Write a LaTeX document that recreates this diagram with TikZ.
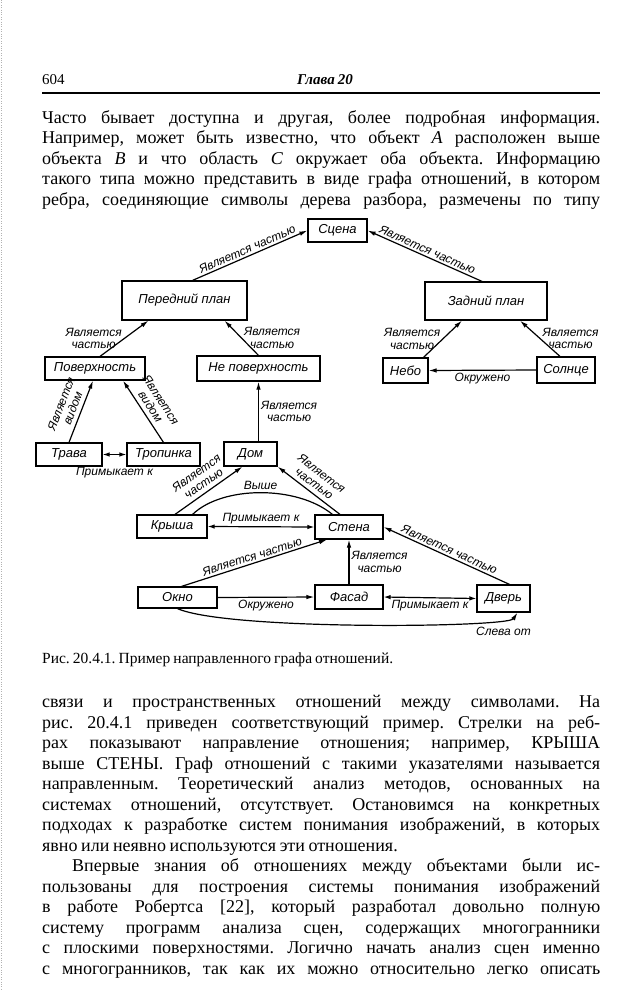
\documentclass[tikz,border=0pt]{standalone}
\usepackage{fontspec}
\setmainfont{Liberation Serif}[WordSpace={0.8,1,1.6}]
\newfontfamily\drawfont{Liberation Sans}
\usetikzlibrary{arrows.meta}
\newlength\linewd
\setlength\linewd{558pt}
\newcommand\jl[1]{\makebox[\linewd][s]{#1}}
\tikzset{
  box/.style={
    rectangle,
    draw,
    line width=1.2pt,
    inner sep=0pt,
    font=\drawfont\itshape\fontsize{13}{14}\selectfont
  },
  lbl/.style={
    align=center,
    inner sep=2pt,
    font=\drawfont\itshape\fontsize{12}{12.5}\selectfont
  },
  rel/.style={-{Latex[length=8pt,width=4.5pt]}, line width=1.2pt},
  mutual/.style={{Latex[length=7pt,width=4.5pt]}-{Latex[length=7pt,width=4.5pt]}, line width=1.2pt},
  bodytext/.style={
    anchor=north west,
    align=left,
    inner sep=0pt,
    font=\frenchspacing\fontsize{18}{20.5}\selectfont
  }
}

\begin{document}
\begin{tikzpicture}[x=1pt, y=-1pt]
  \useasboundingbox (0,0) rectangle (641,990);
  \draw[gray!60, dotted] (1,0) -- (1,990);

  % page head
  \node[anchor=west, inner sep=0pt, font=\fontsize{15}{16}\selectfont] (pageno) at (42,80) {604};
  \node[inner sep=0pt, font=\bfseries\itshape\fontsize{15}{16}\selectfont] (chapter) at (325,80) {Глава 20};
  \draw[line width=1.1pt] (42,93) -- (600,93);

  \node[bodytext] (para1) at (42,110) {%
    \jl{Часто бывает доступна и другая, более подробная информация.}\\
    \jl{Например, может быть известно, что объект \textit{A} расположен выше}\\
    \jl{объекта \textit{B} и что область \textit{C} окружает оба объекта. Информацию}\\
    \jl{такого типа можно представить в виде графа отношений, в котором}\\
    \jl{ребра, соединяющие символы дерева разбора, размечены по типу}};

  % the graph
  \node[box, minimum width=59pt, minimum height=23pt] (scene) at (337.5,230.5) {Сцена};
  \node[box, minimum width=125pt, minimum height=39pt] (front) at (184.5,300.5) {Передний план};
  \node[box, minimum width=122pt, minimum height=38pt] (back) at (486,301) {Задний план};
  \node[box, minimum width=100pt, minimum height=23pt] (surf) at (95,368.5) {Поверхность};
  \node[box, minimum width=123pt, minimum height=25pt] (nonsurf) at (258.5,368.5) {Не поверхность};
  \node[box, minimum width=45pt, minimum height=25pt] (sky) at (405.5,370.5) {Небо};
  \node[box, minimum width=58pt, minimum height=26pt] (sun) at (566,370) {Солнце};
  \node[box, minimum width=66pt, minimum height=23pt] (grass) at (69,454.5) {Трава};
  \node[box, minimum width=73pt, minimum height=23pt] (path) at (163.5,454.5) {Тропинка};
  \node[box, minimum width=53pt, minimum height=24pt] (house) at (250.5,454) {Дом};
  \node[box, minimum width=70pt, minimum height=23pt] (roof) at (172,526.5) {Крыша};
  \node[box, minimum width=68pt, minimum height=24pt] (wall) at (349,527) {Стена};
  \node[box, minimum width=79pt, minimum height=21pt] (window) at (177.5,597.5) {Окно};
  \node[box, minimum width=68pt, minimum height=24pt] (facade) at (349,597) {Фасад};
  \node[box, minimum width=53pt, minimum height=27pt] (door) at (503.5,598.5) {Дверь};

  \draw[rel] ([xshift=8pt]front.north) -- node[lbl, sloped, above] {Является частью} (scene.west);
  \draw[rel] ([xshift=-4pt]back.north) -- node[lbl, sloped, above] {Является частью} (scene.east);
  \draw[rel] ([xshift=5pt]surf.north) -- node[lbl, left] {Является\\частью} ([xshift=-36pt]front.south);
  \draw[rel] (nonsurf.north) -- node[lbl, right] {Является\\частью} ([xshift=40pt]front.south);
  \draw[rel] ([xshift=18pt]sky.north) -- node[lbl, left] {Является\\частью} ([xshift=-24pt]back.south);
  \draw[rel] ([xshift=-6pt]sun.north) -- node[lbl, right] {Является\\частью} ([xshift=34pt]back.south);
  \draw[rel] (sun.west) -- node[lbl, below] {Окружено} (sky.east);
  \draw[rel] (grass.north) -- node[lbl, sloped, above=2pt] {Является\\видом} ([xshift=-2pt]surf.south);
  \draw[rel] (path.north) -- node[lbl, sloped, above=2pt] {Является\\видом} ([xshift=28pt]surf.south);
  \draw[mutual] (grass.east) -- node[lbl, below=10pt] {Примыкает к} (path.west);
  \draw[rel] ([xshift=8pt]house.north) -- node[lbl, right] {Является\\частью} (nonsurf.south);
  \draw[rel] ([xshift=3pt]roof.north) -- node[lbl, sloped, above=2pt] {Является\\частью} ([xshift=-8pt]house.south);
  \draw[rel] ([xshift=-9pt]wall.north) -- node[lbl, sloped, above=2pt] {Является\\частью} (house.south east);
  \draw[line width=1.2pt] ([xshift=-15pt]roof.north east) .. controls +(30,-29) and +(-35,-29) .. node[lbl, above] {Выше} ([xshift=18pt]wall.north west);
  \draw[mutual] (roof.east) -- node[lbl, above] {Примыкает к} (wall.west);
  \draw[rel] ([xshift=4pt]window.north) -- node[lbl, sloped, above] {Является частью} ([xshift=-22pt]wall.south);
  \draw[rel] (facade.north) -- node[lbl, right] {Является\\частью} (wall.south);
  \draw[rel] ([xshift=6pt]door.north) -- node[lbl, sloped, above] {Является частью} (wall.east);
  \draw[rel] (window.east) -- node[lbl, below] {Окружено} (facade.west);
  \draw[mutual] (facade.east) -- node[lbl, below] {Примыкает к} (door.west);
  \draw[rel] (window.south) .. controls +(50,22) and +(-10,15) .. node[at end, lbl, below=12pt, xshift=-14pt] {Слева от} ([xshift=14pt]door.south);

  \node[anchor=west, inner sep=0pt, font=\frenchspacing\fontsize{15.5}{17}\selectfont] (caption) at (42,660) {Рис. 20.4.1. Пример направленного графа отношений.};

  \node[bodytext] (para2) at (42,695) {%
    \jl{связи и пространственных отношений между символами. На}\\
    \jl{рис. 20.4.1 приведен соответствующий пример. Стрелки на реб-}\\
    \jl{рах показывают направление отношения; например, КРЫША}\\
    \jl{выше СТЕНЫ. Граф отношений с такими указателями называется}\\
    \jl{направленным. Теоретический анализ методов, основанных на}\\
    \jl{системах отношений, отсутствует. Остановимся на конкретных}\\
    \jl{подходах к разработке систем понимания изображений, в которых}\\
    явно или неявно используются эти отношения.\\
    \hspace*{30pt}\makebox[\dimexpr\linewd-30pt][s]{Впервые знания об отношениях между объектами были ис-}\\
    \jl{пользованы для построения системы понимания изображений}\\
    \jl{в работе Робертса [22], который разработал довольно полную}\\
    \jl{систему программ анализа сцен, содержащих многогранники}\\
    \jl{с плоскими поверхностями. Логично начать анализ сцен именно}\\
    \jl{с многогранников, так как их можно относительно легко описать}};
\end{tikzpicture}
\end{document}
